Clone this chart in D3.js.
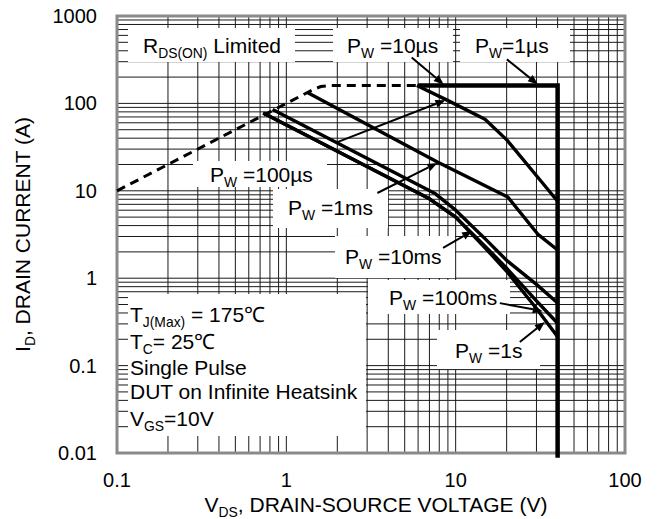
<!DOCTYPE html>
<html><head><meta charset="utf-8">
<script src="https://cdn.jsdelivr.net/npm/d3@7"></script>
<style>
html,body{margin:0;padding:0;background:#fff;}
svg{display:block;font-family:Arial,"Liberation Sans",Helvetica,sans-serif;}
</style></head>
<body>
<svg id="c" width="660" height="519"></svg>
<script>
// ---------- data ----------
const xTicks = [0.1, 1, 10, 100];
const xTickLabels = ["0.1", "1", "10", "100"];
const yTicks = [0.01, 0.1, 1, 10, 100, 1000];
const yTickLabels = ["0.01", "0.1", "1", "10", "100", "1000"];

// R_DS(ON) limit (dashed)
const rdsV = [0.1, 1.45, 1.6, 1.8, 6.0];
const rdsI = [10, 145, 156, 160, 160];
// 1us / 10us boundary (current limit + BVDSS)
const limV = [6.0, 40, 40];
const limI = [160, 160, 0.0088];
// 100us
const p100usV = [5.9, 8.9, 14.9, 20.1, 31.5, 40];
const p100usI = [160, 109, 66, 38, 13.3, 7.6];
// 1ms
const p1msV = [1.34, 7.8, 20.3, 30.5, 40];
const p1msI = [132, 21.4, 8.5, 3.2, 2.1];
// 10ms
const p10msV = [0.83, 7.5, 10, 15, 20, 30, 40];
const p10msI = [85, 9.4, 6.0, 2.8, 1.6, 0.85, 0.52];
// 100ms
const p100msV = [0.73, 7.0, 10, 15, 20, 30, 40];
const p100msI = [77.6, 8.1, 5.0, 2.3, 1.3, 0.55, 0.305];
// 1s
const p1sV = [0.73, 7.0, 10, 15, 20, 30, 40];
const p1sI = [77.6, 8.1, 5.0, 2.2, 1.2, 0.45, 0.214];

// annotation texts and arrow tips (V, A)
const pwLabels = ["10µs", "1µs", "100µs", "1ms", "10ms", "100ms", "1s"];
const tipV = [8.5, 30.6, 8.7, 7.8, 12.5, 32.7, 33.6];
const tipI = [165, 165, 109, 20.8, 3.47, 0.42, 0.315];
const condLines = ["T|J(Max)| = 175℃", "T|C|= 25℃", "Single Pulse", "DUT on Infinite Heatsink", "V|GS|=10V"];

// ---------- layout ----------
const L = 117, R = 625, T = 16, B = 453;
const svg = d3.select("#c");
const x = d3.scaleLog().domain([0.1, 100]).range([L, R]);
const y = d3.scaleLog().domain([0.01, 1000]).range([B, T]);

// grid
const gx = [], gy = [];
for (let d = 0.1; d < 100 - 1e-9; d *= 10) for (let k = 1; k <= 9; k++) gx.push(+(k * d).toPrecision(3));
for (let d = 0.01; d < 1000 - 1e-9; d *= 10) for (let k = 1; k <= 9; k++) gy.push(+(k * d).toPrecision(3));
const grid = svg.append("g").attr("stroke", "#1a1a1a").attr("stroke-width", 1);
grid.selectAll(".gx").data(gx).join("line")
  .attr("x1", d => x(d)).attr("x2", d => x(d)).attr("y1", T).attr("y2", B);
grid.selectAll(".gy").data(gy).join("line")
  .attr("y1", d => y(d)).attr("y2", d => y(d)).attr("x1", L).attr("x2", R);

// white label boxes [x0,y0,x1,y1]
const boxes = [
  [128, 28, 295, 62],   // RDS
  [333, 28, 453, 62],   // 10us
  [460, 28, 570, 62],   // 1us
  [193, 161, 327, 187], // 100us
  [273, 189, 388, 228], // 1ms
  [335, 236, 455, 278], // 10ms
  [368, 280, 510, 314], // 100ms
  [437, 330, 540, 369], // 1s
  [128, 294, 366, 436]  // conditions
];
svg.append("g").selectAll("rect").data(boxes).join("rect")
  .attr("x", d => d[0]).attr("y", d => d[1]).attr("width", d => d[2] - d[0]).attr("height", d => d[3] - d[1])
  .attr("fill", "#fff");

// frame
svg.append("rect").attr("x", L).attr("y", T).attr("width", R - L).attr("height", B - T)
  .attr("fill", "none").attr("stroke", "#8a8a8a").attr("stroke-width", 3);

// curves
const line = d3.line().x(d => x(d[0])).y(d => y(d[1]));
const zip = (a, b) => a.map((v, i) => [v, b[i]]);
const curves = svg.append("g").attr("fill", "none").attr("stroke", "#000").attr("stroke-linejoin", "round");
curves.append("path").attr("d", line(zip(rdsV, rdsI))).attr("stroke-width", 3).attr("stroke-dasharray", "9,6");
curves.append("path").attr("d", line(zip(limV, limI))).attr("stroke-width", 4.5).attr("stroke-linejoin", "miter");
[[p100usV, p100usI], [p1msV, p1msI], [p10msV, p10msI], [p100msV, p100msI], [p1sV, p1sI]].forEach(([v, i]) => {
  curves.append("path").attr("d", line(zip(v, i))).attr("stroke-width", 3.4);
});

// arrows
const tails = [[-32, -27], [-31, -25], [-108, 42], [-60, 30], [-29, 17], [-43, -8], [-25, 20]];
const ar = svg.append("g");
tipV.forEach((v, i) => {
  const tx = x(v), ty = y(tipI[i]);
  const sx = tx + tails[i][0], sy = ty + tails[i][1];
  const ang = Math.atan2(ty - sy, tx - sx);
  const hl = 10, hw = 4;
  const bx = tx - hl * Math.cos(ang), by = ty - hl * Math.sin(ang);
  ar.append("line").attr("x1", sx).attr("y1", sy).attr("x2", bx).attr("y2", by)
    .attr("stroke", "#000").attr("stroke-width", 2);
  const p = [[tx, ty], [bx + hw * Math.sin(ang), by - hw * Math.cos(ang)], [bx - hw * Math.sin(ang), by + hw * Math.cos(ang)]];
  ar.append("path").attr("d", "M" + p.map(q => q.join(",")).join("L") + "Z").attr("fill", "#000");
});

// rich text helper: "A|sub|B"
function rich(g, tx, ty, s, size, anchor) {
  const parts = s.split("|");
  const t = g.append("text").attr("x", tx).attr("y", ty).attr("font-size", size).attr("fill", "#000");
  if (anchor) t.attr("text-anchor", anchor);
  parts.forEach((p, i) => {
    if (!p.length) return;
    const sp = t.append("tspan").text(p);
    if (i % 2 === 1) sp.attr("font-size", size * 0.66).attr("dy", 5);
    else if (i > 0) sp.attr("dy", -5);
  });
  return t;
}

const lab = svg.append("g");
rich(lab, 143, 53, "R|DS(ON)| Limited", 21);
const pwPos = [[347, 53], [475, 53], [210, 182], [288, 215], [345, 264], [389, 305], [455, 358]];
pwLabels.forEach((s, i) => {
  const sep = (s === "1µs") ? "=" : " =";
  rich(lab, pwPos[i][0], pwPos[i][1], "P|W|" + sep + s, 21);
});
const condY = [322, 349, 375, 399, 426];
condLines.forEach((s, i) => rich(lab, 130, condY[i], s, 21));

// tick labels
const tl = svg.append("g").attr("font-size", 20).attr("fill", "#000");
tl.selectAll(".xt").data(xTicks).join("text").attr("x", d => x(d)).attr("y", 487)
  .attr("text-anchor", "middle").text((d, i) => xTickLabels[i]);
tl.selectAll(".yt").data(yTicks).join("text").attr("x", 97).attr("y", d => y(d) + 7)
  .attr("text-anchor", "end").text((d, i) => yTickLabels[i]);

// axis titles
rich(svg, (L + R) / 2 + 5, 512, "V|DS|, DRAIN-SOURCE VOLTAGE (V)", 21, "middle");
const yt = svg.append("g").attr("transform", `translate(30,${(T + B) / 2}) rotate(-90)`);
rich(yt, 0, 0, "I|D|, DRAIN CURRENT (A)", 21, "middle");
</script>
</body></html>
